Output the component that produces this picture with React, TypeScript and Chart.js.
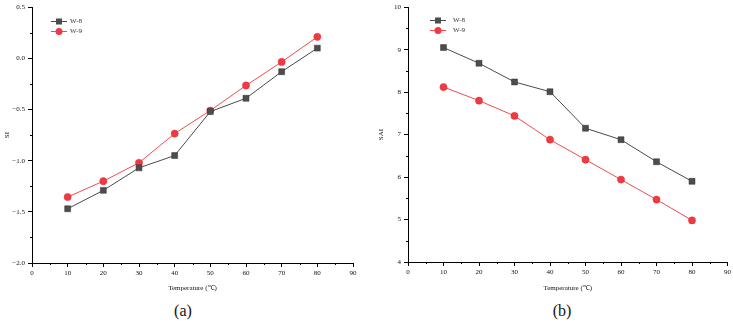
import React, { useEffect, useRef } from "react";
import { Chart, registerables } from "chart.js";

Chart.register(...registerables);

// Shared temperature axis (°C)
const temperatures = [10, 20, 30, 40, 50, 60, 70, 80];

// Panel (a): SI
const siW8 = [-1.47, -1.29, -1.07, -0.95, -0.52, -0.39, -0.13, 0.1];
const siW9 = [-1.355, -1.2, -1.02, -0.735, -0.51, -0.265, -0.035, 0.21];

// Panel (b): SAI
const saiW8 = [9.05, 8.68, 8.24, 8.01, 7.15, 6.88, 6.36, 5.9];
const saiW9 = [8.12, 7.8, 7.44, 6.88, 6.41, 5.94, 5.47, 4.98];

const seriesNames = ["W-8", "W-9"];
const xTickStep = 10;
const siTicks = { min: -2, max: 0.5, step: 0.5 };
const saiTicks = { min: 4, max: 10, step: 1 };

const FONT = "'Liberation Serif', 'Times New Roman', serif";

const GREY = { line: "#4a4a4a", fill: "#4d4d4d", border: "#333333" };
const RED = { line: "#ef4b50", fill: "#ee3a43", border: "#e63039" };

// Short outward ticks between the labelled ones
const minorTicksPlugin = {
  id: "minorTicks",
  afterDraw(chart: any, _args: any, opts: any) {
    const ctx = chart.ctx;
    ctx.save();
    ctx.strokeStyle = "#000";
    ctx.lineWidth = 1;
    const len = opts.length ?? 2;
    const xs = chart.scales.x;
    const ys = chart.scales.y;
    if (opts.x) {
      for (let v = xs.min + opts.x; v < xs.max; v += opts.x * 2) {
        const px = Math.round(xs.getPixelForValue(v)) + 0.5;
        ctx.beginPath();
        ctx.moveTo(px, chart.chartArea.bottom);
        ctx.lineTo(px, chart.chartArea.bottom + len);
        ctx.stroke();
      }
    }
    if (opts.y) {
      for (let v = ys.min + opts.y; v < ys.max; v += opts.y * 2) {
        const py = Math.round(ys.getPixelForValue(v)) + 0.5;
        ctx.beginPath();
        ctx.moveTo(chart.chartArea.left, py);
        ctx.lineTo(chart.chartArea.left - len, py);
        ctx.stroke();
      }
    }
    ctx.restore();
  },
};

// Legend with a line segment through each marker, inside the plot area
const lineLegendPlugin = {
  id: "lineLegend",
  afterDraw(chart: any, _args: any, opts: any) {
    const ctx = chart.ctx;
    const area = chart.chartArea;
    ctx.save();
    chart.data.datasets.forEach((ds: any, i: number) => {
      const y = Math.round(area.top + opts.top + i * opts.gap) + 0.5;
      const x0 = area.left + opts.left;
      const x1 = x0 + 16;
      const cx = (x0 + x1) / 2;
      ctx.strokeStyle = ds.borderColor;
      ctx.lineWidth = 1;
      ctx.beginPath();
      ctx.moveTo(x0, y);
      ctx.lineTo(x1, y);
      ctx.stroke();
      ctx.fillStyle = ds.pointBackgroundColor;
      ctx.strokeStyle = ds.pointBorderColor;
      if (ds.pointStyle === "rect") {
        ctx.fillRect(cx - 3, y - 3, 6, 6);
      } else {
        ctx.beginPath();
        ctx.arc(cx, y, 3.5, 0, Math.PI * 2);
        ctx.fill();
      }
      ctx.fillStyle = "#333";
      ctx.font = `7px ${FONT}`;
      ctx.textBaseline = "middle";
      ctx.textAlign = "left";
      ctx.fillText(ds.label, area.left + opts.textLeft, y);
    });
    ctx.restore();
  },
};

function makeDatasets(a: number[], b: number[]) {
  return [
    {
      label: seriesNames[0],
      data: temperatures.map((t, i) => ({ x: t, y: a[i] })),
      borderColor: GREY.line,
      borderWidth: 1,
      pointStyle: "rect",
      pointRadius: 4.2,
      pointBackgroundColor: GREY.fill,
      pointBorderColor: GREY.border,
      pointBorderWidth: 0.5,
      tension: 0,
    },
    {
      label: seriesNames[1],
      data: temperatures.map((t, i) => ({ x: t, y: b[i] })),
      borderColor: RED.line,
      borderWidth: 1,
      pointStyle: "circle",
      pointRadius: 3.6,
      pointBackgroundColor: RED.fill,
      pointBorderColor: RED.border,
      pointBorderWidth: 0.5,
      tension: 0,
    },
  ];
}

function buildConfig(opts: {
  a: number[];
  b: number[];
  yTitle: string;
  yRange: { min: number; max: number; step: number };
  yWidth: number;
  xHeight: number;
  pad: { top: number; right: number };
  yTitlePad: number;
  fmt: (v: number) => string;
  legend: { left: number; textLeft: number; top: number; gap: number };
}) {
  const tickFont = { family: FONT, size: 7 };
  return {
    type: "line" as const,
    data: { datasets: makeDatasets(opts.a, opts.b) },
    options: {
      responsive: false,
      animation: false as const,
      layout: { padding: { top: opts.pad.top, right: opts.pad.right, left: 0, bottom: 0 } },
      plugins: {
        legend: { display: false },
        tooltip: { enabled: false },
        minorTicks: { x: xTickStep / 2, y: opts.yRange.step / 2, length: 2 },
        lineLegend: opts.legend,
      },
      scales: {
        x: {
          type: "linear" as const,
          min: 0,
          max: 90,
          ticks: { stepSize: xTickStep, font: tickFont, color: "#111", padding: 2, maxRotation: 0 },
          grid: { drawOnChartArea: false, drawTicks: true, tickLength: 4, color: "#000" },
          border: { color: "#000", width: 1 },
          title: {
            display: true,
            text: "Temperature (℃)",
            font: tickFont,
            color: "#111",
            padding: { top: 0, bottom: 8 },
          },
          afterFit(scale: any) {
            scale.height = opts.xHeight;
          },
        },
        y: {
          type: "linear" as const,
          min: opts.yRange.min,
          max: opts.yRange.max,
          ticks: {
            stepSize: opts.yRange.step,
            font: tickFont,
            color: "#111",
            padding: 3,
            callback: (v: any) => opts.fmt(Number(v)),
          },
          grid: { drawOnChartArea: false, drawTicks: true, tickLength: 4, color: "#000" },
          border: { color: "#000", width: 1 },
          title: {
            display: true,
            text: opts.yTitle,
            font: tickFont,
            color: "#111",
            padding: { top: opts.yTitlePad, bottom: 0 },
          },
          afterFit(scale: any) {
            scale.width = opts.yWidth;
          },
        },
      },
    },
    plugins: [minorTicksPlugin, lineLegendPlugin],
  };
}

function Panel(props: { config: any; left: number; width: number; height: number }) {
  const ref = useRef<HTMLCanvasElement>(null);
  useEffect(() => {
    if (!ref.current) return;
    const chart = new Chart(ref.current, props.config);
    return () => chart.destroy();
  }, []);
  return (
    <canvas
      ref={ref}
      width={props.width}
      height={props.height}
      style={{ position: "absolute", left: props.left, top: 0, width: props.width, height: props.height }}
    />
  );
}

const siConfig = buildConfig({
  a: siW8,
  b: siW9,
  yTitle: "SI",
  yRange: siTicks,
  yWidth: 32,
  xHeight: 37,
  pad: { top: 5, right: 13 },
  yTitlePad: 3,
  fmt: (v) => v.toFixed(1).replace("-", "\u2212"),
  legend: { left: 19, textLeft: 38, top: 13.5, gap: 10 },
});

const saiConfig = buildConfig({
  a: saiW8,
  b: saiW9,
  yTitle: "SAI",
  yRange: saiTicks,
  yWidth: 42,
  xHeight: 38,
  pad: { top: 5, right: 5 },
  yTitlePad: 11,
  fmt: (v) => String(Math.round(v)),
  legend: { left: 22, textLeft: 45, top: 12.8, gap: 10 },
});

const captionStyle: React.CSSProperties = {
  position: "absolute",
  top: 302,
  fontFamily: FONT,
  fontSize: 16,
  lineHeight: "18px",
  color: "#111",
  transform: "translateX(-50%)",
  whiteSpace: "nowrap",
};

export default function App() {
  return (
    <div style={{ position: "absolute", left: 0, top: 0, width: 733, height: 323, background: "#fff", overflow: "hidden" }}>
      <Panel config={siConfig} left={0} width={366} height={300} />
      <Panel config={saiConfig} left={366} width={367} height={300} />
      <div style={{ ...captionStyle, left: 183 }}>(a)</div>
      <div style={{ ...captionStyle, left: 562 }}>(b)</div>
    </div>
  );
}
